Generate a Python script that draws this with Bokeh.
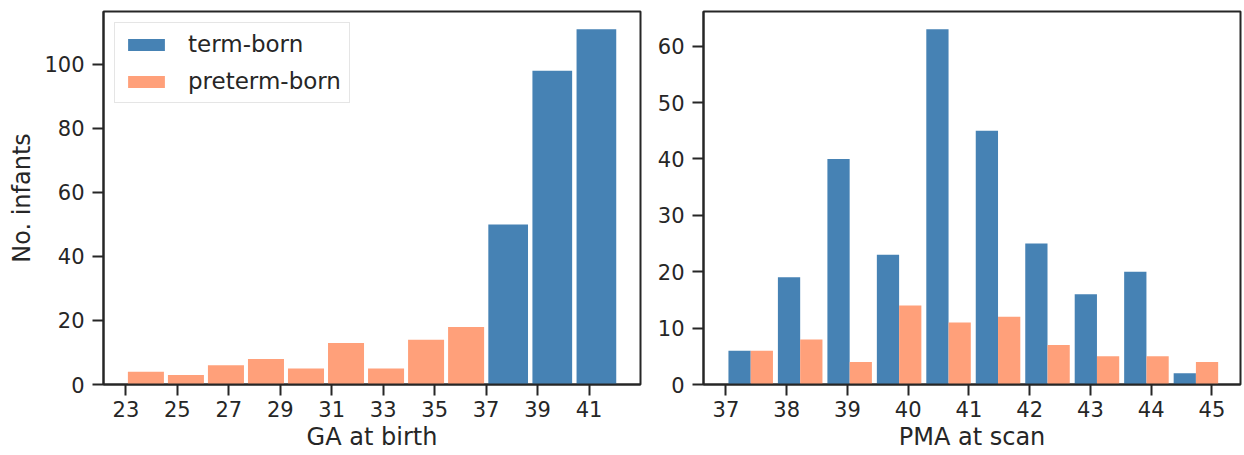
import numpy as np
from bokeh.plotting import figure
from bokeh.layouts import row
from bokeh.models import Range1d, FixedTicker, Legend, LegendItem
from bokeh.embed import file_html
from bokeh.resources import INLINE

# ---------------- data ----------------
# Left panel: GA at birth histogram
ga_preterm_edges = [23.0, 24.556, 26.111, 27.667, 29.222, 30.778, 32.333, 33.889, 35.444, 37.0]
ga_preterm_counts = [4, 3, 6, 8, 5, 13, 5, 14, 18]
ga_term_edges = [37.0, 38.714, 40.429, 42.143]
ga_term_counts = [50, 98, 111]
ga_ticks = [23, 25, 27, 29, 31, 33, 35, 37, 39, 41]

# Right panel: PMA at scan histogram (side-by-side bars)
pma_edges = [37.0, 37.814, 38.629, 39.443, 40.257, 41.071, 41.886, 42.700, 43.514, 44.329, 45.143]
pma_term_counts = [6, 19, 40, 23, 63, 45, 25, 16, 20, 2]
pma_preterm_counts = [6, 8, 4, 14, 11, 12, 7, 5, 5, 4]
pma_ticks = [37, 38, 39, 40, 41, 42, 43, 44, 45]

series_names = ["term-born", "preterm-born"]
left_yticks = [0, 20, 40, 60, 80, 100]
right_yticks = [0, 10, 20, 30, 40, 50, 60]

# ---------------- style ----------------
BLUE = "#4682B4"
SALMON = "#FFA07A"
INK = "#262626"
FONT = "DejaVu Sans"
RWIDTH = 0.9


def style(p, xlabel, ylabel, xticks, yticks):
    p.grid.visible = False
    p.outline_line_color = INK
    p.outline_line_width = 2
    p.background_fill_color = "white"
    p.border_fill_color = "white"
    for ax in (p.xaxis[0], p.yaxis[0]):
        ax.axis_line_color = INK
        ax.axis_line_width = 2
        ax.major_tick_line_color = INK
        ax.major_tick_line_width = 2
        ax.major_tick_out = 11
        ax.major_tick_in = 0
        ax.minor_tick_line_color = None
        ax.major_label_text_font = FONT
        ax.major_label_text_font_size = "21px"
        ax.major_label_text_color = INK
        ax.axis_label_text_font = FONT
        ax.axis_label_text_font_size = "24px"
        ax.axis_label_text_font_style = "normal"
        ax.axis_label_text_color = INK
    p.xaxis[0].ticker = FixedTicker(ticks=xticks)
    p.yaxis[0].ticker = FixedTicker(ticks=yticks)
    p.xaxis[0].major_label_standoff = 5
    p.yaxis[0].major_label_standoff = 8
    p.xaxis[0].axis_label = xlabel
    p.xaxis[0].axis_label_standoff = 3
    if ylabel:
        p.yaxis[0].axis_label = ylabel
        p.yaxis[0].axis_label_standoff = 5


def hist_bars(edges, offset_frac, width_frac):
    e = np.asarray(edges, dtype=float)
    w = np.diff(e)
    left = e[:-1] + offset_frac * w
    right = left + width_frac * w
    return left, right


# ---------------- left figure ----------------
p1 = figure(width=642, height=455, output_backend="svg", toolbar_location=None,
            x_range=Range1d(22.13, 43.0), y_range=Range1d(0, max(ga_term_counts) * 1.05),
            min_border_left=103, min_border_right=2, min_border_top=11, min_border_bottom=71)

pl, pr = hist_bars(ga_preterm_edges, (1 - RWIDTH) / 2, RWIDTH)
r_pre = p1.quad(left=pl, right=pr, bottom=0, top=ga_preterm_counts,
                fill_color=SALMON, line_color=None)
tl, tr = hist_bars(ga_term_edges, (1 - RWIDTH) / 2, RWIDTH)
r_term = p1.quad(left=tl, right=tr, bottom=0, top=ga_term_counts,
                 fill_color=BLUE, line_color=None)

style(p1, "GA at birth", "No. infants", ga_ticks, left_yticks)

legend = Legend(items=[LegendItem(label=series_names[0], renderers=[r_term]),
                       LegendItem(label=series_names[1], renderers=[r_pre])],
                location="top_left")
legend.margin = 11
legend.padding = 8
legend.spacing = 11
legend.glyph_width = 46
legend.glyph_height = 15
legend.label_height = 22
legend.label_standoff = 19
legend.label_text_font = FONT
legend.label_text_font_size = "23px"
legend.label_text_color = INK
legend.border_line_color = "#cccccc"
legend.border_line_width = 1.5
legend.background_fill_color = "white"
legend.background_fill_alpha = 0.8
p1.add_layout(legend)

# ---------------- right figure ----------------
p2 = figure(width=602, height=455, output_backend="svg", toolbar_location=None,
            x_range=Range1d(36.63, 45.47), y_range=Range1d(0, max(pma_term_counts) * 1.05),
            min_border_left=61, min_border_right=4, min_border_top=11, min_border_bottom=71)

half = RWIDTH / 2
bl, br = hist_bars(pma_edges, (1 - RWIDTH) / 2, half)
p2.quad(left=bl, right=br, bottom=0, top=pma_term_counts, fill_color=BLUE, line_color=None)
ol, orr = hist_bars(pma_edges, (1 - RWIDTH) / 2 + half, half)
p2.quad(left=ol, right=orr, bottom=0, top=pma_preterm_counts, fill_color=SALMON, line_color=None)

style(p2, "PMA at scan", None, pma_ticks, right_yticks)

layout = row(p1, p2, spacing=0)
open("out.html", "w").write(file_html(layout, INLINE))
